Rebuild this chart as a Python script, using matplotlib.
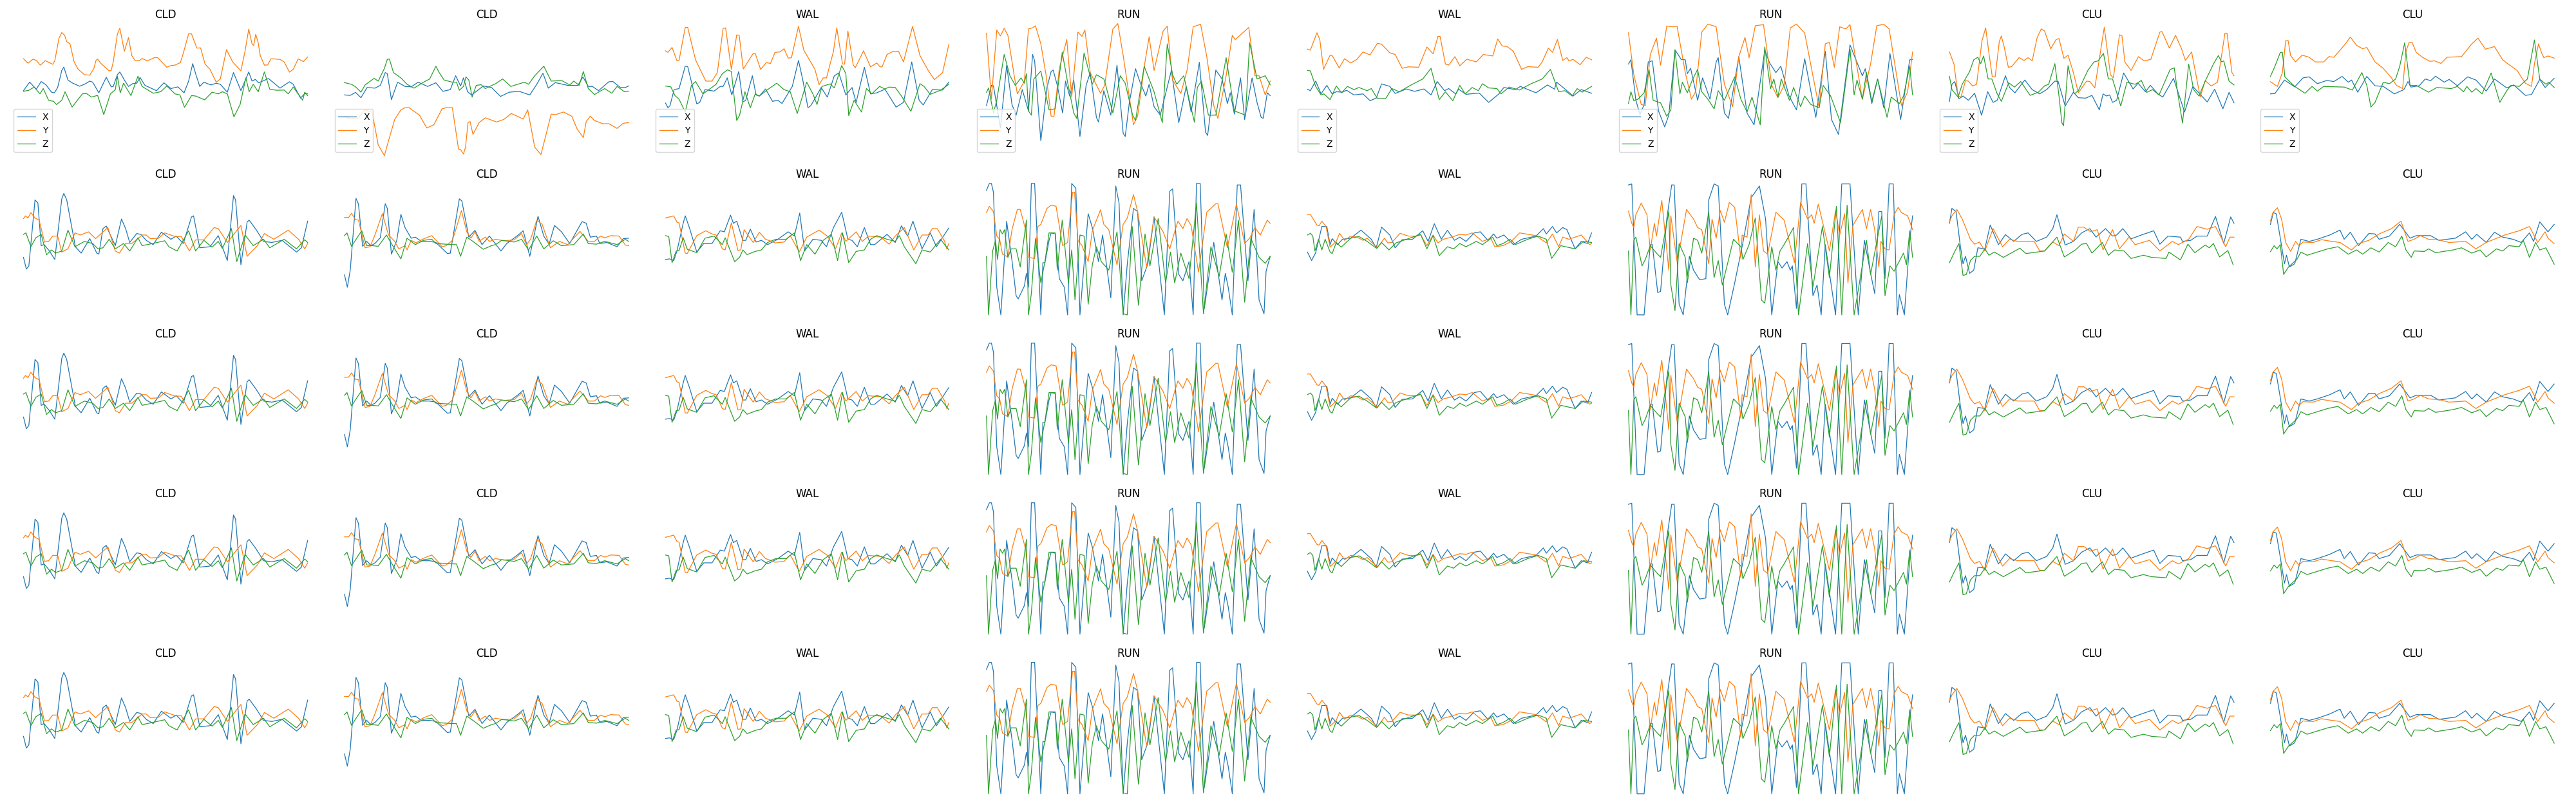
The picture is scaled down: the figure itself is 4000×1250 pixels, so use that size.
import matplotlib
matplotlib.use('Agg')
from matplotlib import pyplot as plt

# each series: (time, value) points, time 0..690, value -315..315
titles = ['CLD', 'CLD', 'WAL', 'RUN', 'WAL', 'RUN', 'CLU', 'CLU']
axes_names = ['X', 'Y', 'Z']

# first row
a1_x = [(0,-5),(15,35),(31,2),(43,38),(55,22),(68,-12),(75,-15),(83,10),(93,90),(98,106),(108,45),(118,32),(136,16),(148,25),(161,40),(168,35),(183,-15),(201,58),(213,13),(218,15),(228,70),(234,83),(245,45),(255,15),(265,28),(275,30),(283,57),(295,20),(323,-5),(341,32),(358,5),(375,13),(390,-15),(401,40),(411,122),(418,75),(428,15),(438,35),(455,22),(468,30),(478,25),(495,-12),(510,80),(528,-5),(547,83),(555,40),(563,48),(571,32),(595,52),(623,7),(646,37),(655,25),(673,-40),(683,-18),(690,-20)]
a1_y = [(0,145),(11,124),(23,143),(31,137),(41,115),(53,136),(71,119),(76,135),(86,240),(93,268),(100,255),(105,225),(113,215),(123,130),(133,95),(148,70),(161,68),(171,100),(176,137),(180,144),(188,123),(208,88),(213,90),(218,130),(228,260),(234,288),(245,180),(255,244),(263,160),(271,136),(281,136),(288,146),(301,135),(318,150),(326,150),(348,105),(358,113),(368,115),(381,127),(388,170),(401,262),(408,262),(421,195),(430,196),(441,120),(453,95),(468,35),(478,50),(493,188),(508,130),(528,88),(538,180),(547,284),(555,215),(559,207),(564,260),(570,220),(575,160),(585,115),(593,116),(601,145),(623,142),(633,130),(646,82),(655,95),(667,144),(680,132),(690,153)]
a1_z = [(0,-8),(13,-3),(26,12),(40,-20),(48,5),(61,-50),(73,-55),(80,-70),(93,-50),(101,-10),(118,-82),(143,-20),(153,-18),(165,-35),(180,-27),(195,-117),(211,-20),(223,0),(228,63),(235,-15),(243,30),(261,-28),(278,63),(288,15),(315,-17),(333,-10),(348,17),(368,-20),(380,-25),(391,-83),(408,-28),(418,-30),(440,-48),(458,-12),(473,-20),(483,-10),(495,-20),(511,-128),(526,-70),(540,55),(548,-10),(558,25),(570,-10),(585,83),(598,2),(615,-3),(633,-2),(643,-20),(655,12),(678,-50),(683,-12),(690,-28)]

a2_x = [(0,-25),(14,-27),(27,-13),(40,-38),(55,10),(74,7),(87,20),(99,80),(104,75),(114,-47),(129,35),(147,15),(162,13),(179,35),(202,15),(222,32),(239,-8),(257,0),(270,65),(282,17),(289,55),(299,-10),(309,-25),(337,17),(357,10),(379,-32),(400,-12),(424,-8),(450,-25),(467,25),(482,77),(495,7),(512,33),(542,20),(567,20),(579,60),(592,15),(602,15),(617,-5),(642,37),(652,38),(670,10),(682,10),(690,17)]
a2_y = [(0,-125),(12,-135),(32,-135),(50,-95),(67,-105),(82,-260),(97,-310),(107,-240),(122,-140),(137,-95),(147,-85),(157,-85),(182,-120),(200,-180),(217,-165),(237,-90),(247,-85),(262,-85),(277,-280),(282,-282),(289,-302),(294,-270),(300,-155),(305,-150),(312,-210),(327,-155),(342,-132),(369,-152),(387,-140),(405,-112),(434,-138),(445,-95),(462,-270),(477,-305),(487,-230),(502,-115),(512,-118),(532,-105),(552,-125),(565,-185),(580,-225),(587,-150),(597,-125),(607,-145),(627,-160),(642,-160),(662,-182),(677,-158),(690,-155)]
a2_z = [(0,33),(17,25),(27,13),(40,-12),(50,22),(72,53),(82,40),(97,100),(104,142),(109,144),(119,80),(137,55),(152,25),(169,7),(192,35),(207,50),(222,110),(230,80),(242,45),(262,35),(272,35),(279,-3),(289,15),(295,60),(302,45),(310,-35),(320,20),(332,23),(342,5),(367,28),(384,50),(404,15),(437,35),(447,25),(462,65),(484,110),(502,40),(527,43),(547,22),(557,40),(570,20),(580,85),(592,5),(607,-23),(632,5),(649,-17),(662,15),(680,-10),(690,-7)]

a3_x = [(0,-63),(6,-85),(11,-75),(21,0),(33,5),(48,110),(54,108),(76,-67),(83,-60),(96,0),(118,-7),(133,15),(140,15),(150,55),(161,-25),(178,85),(188,-58),(195,-50),(211,65),(220,-25),(228,-30),(243,3),(260,-55),(273,-50),(283,-65),(308,15),(323,137),(333,50),(346,-85),(353,-75),(368,-25),(378,10),(393,-35),(410,65),(421,78),(438,-25),(453,10),(463,-60),(483,105),(498,-20),(513,-15),(533,2),(560,-82),(578,-60),(598,130),(616,-50),(626,-72),(648,0),(673,-2),(688,35)]
a3_y = [(0,182),(6,175),(16,198),(28,135),(33,137),(48,292),(54,292),(73,140),(98,40),(113,40),(126,80),(140,287),(146,290),(160,95),(173,257),(179,255),(189,97),(213,170),(218,170),(231,95),(245,127),(255,123),(266,175),(278,177),(288,192),(298,148),(306,150),(323,297),(336,185),(363,95),(373,23),(383,55),(391,55),(408,180),(416,290),(430,120),(435,120),(443,275),(456,115),(461,103),(481,182),(498,107),(513,125),(521,107),(526,107),(538,165),(553,180),(566,180),(578,130),(600,297),(618,160),(638,90),(653,47),(673,80),(688,212)]
a3_z = [(0,17),(13,13),(23,-28),(33,-45),(48,-105),(63,20),(73,38),(91,-20),(123,25),(138,75),(151,93),(160,85),(173,-145),(180,-120),(193,-10),(206,-85),(218,-20),(228,-30),(248,0),(270,30),(288,0),(303,-10),(320,-112),(343,35),(358,-20),(368,-70),(380,15),(400,27),(410,8),(428,113),(438,75),(445,-122),(458,-50),(476,-105),(488,5),(501,-20),(520,15),(533,3),(543,12),(558,10),(573,-30),(596,-102),(618,28),(628,15),(643,-22),(668,-3),(688,25)]

a4_x = [(0,-75),(12,20),(17,18),(34,-180),(49,115),(62,-70),(72,-120),(87,0),(102,-100),(112,165),(117,135),(132,-240),(147,10),(157,85),(162,92),(172,20),(185,-110),(192,40),(202,-30),(212,45),(227,-220),(242,20),(252,80),(267,-130),(272,-152),(285,-5),(302,-120),(317,115),(332,-205),(337,-220),(347,-60),(362,98),(372,40),(387,-30),(395,25),(407,-80),(422,-120),(449,90),(467,-155),(485,15),(497,-105),(517,128),(532,-200),(537,-215),(557,92),(572,50),(585,-65),(592,-15),(602,-115),(617,55),(627,-140),(645,55),(657,-60),(667,-130),(672,-135),(682,-15),(689,-28)]
a4_y = [(0,265),(12,-45),(25,280),(34,252),(43,288),(52,255),(67,70),(75,-20),(92,40),(102,285),(112,290),(119,300),(132,215),(145,65),(157,-125),(164,-125),(177,100),(195,235),(207,-35),(222,270),(232,250),(239,280),(252,80),(277,-17),(287,20),(307,285),(319,310),(332,160),(357,-165),(367,-125),(385,130),(395,248),(407,90),(429,275),(439,298),(452,45),(472,-18),(487,90),(502,295),(520,307),(535,155),(552,-75),(562,-135),(582,65),(597,255),(604,235),(637,292),(652,65),(662,65),(677,-25),(689,40)]
a4_z = [(0,-13),(5,8),(17,-110),(25,-50),(43,165),(57,65),(70,20),(84,55),(92,30),(97,75),(102,-100),(109,-120),(115,50),(132,87),(152,-95),(167,-90),(184,175),(197,35),(212,-110),(219,-135),(237,172),(257,25),(267,70),(285,50),(289,25),(307,-110),(325,65),(337,30),(355,-120),(362,-145),(383,110),(407,-10),(427,-155),(439,215),(452,70),(462,25),(479,65),(505,-153),(512,10),(522,40),(539,-120),(557,-120),(582,150),(602,-100),(629,-120),(639,220),(657,50),(677,65),(689,22)]

a5_x = [(0,2),(7,-5),(20,40),(33,-20),(47,20),(60,-20),(70,-10),(85,-12),(95,-3),(113,-25),(135,-20),(152,-52),(167,-40),(180,27),(200,15),(213,-18),(240,3),(260,-8),(283,3),(300,-25),(315,38),(333,-5),(343,5),(360,-20),(367,2),(385,-22),(417,-16),(440,-60),(465,-20),(477,10),(505,0),(517,15),(555,-15),(583,22),(600,2),(605,35),(627,0),(645,-30),(665,0),(690,-17)]
a5_y = [(0,190),(7,185),(23,267),(30,235),(39,95),(55,162),(60,160),(77,102),(90,145),(105,125),(120,142),(135,177),(152,163),(170,218),(180,213),(200,173),(213,165),(230,100),(245,107),(270,105),(290,200),(305,168),(317,250),(322,250),(335,120),(343,115),(358,155),(370,112),(387,143),(410,130),(427,165),(450,158),(462,238),(473,205),(485,202),(500,180),(520,95),(535,108),(560,105),(570,130),(585,195),(595,175),(607,235),(620,137),(630,150),(635,135),(645,142),(662,117),(677,152),(690,140)]
a5_z = [(0,90),(7,88),(20,15),(33,-25),(40,-20),(55,-47),(70,17),(83,-15),(97,15),(113,0),(125,10),(145,-5),(155,5),(170,-42),(190,-42),(205,5),(223,-10),(250,20),(280,50),(300,100),(320,-47),(335,-10),(353,-52),(370,20),(383,-20),(400,10),(415,-5),(425,28),(440,8),(460,5),(470,-20),(490,12),(515,-2),(540,25),(570,50),(590,95),(610,-10),(625,-5),(643,-30),(655,5),(667,-12),(690,15)]

a6_x = [(0,120),(6,140),(18,-50),(28,-117),(38,-70),(48,130),(58,135),(73,-100),(88,-175),(98,-120),(113,187),(128,142),(138,140),(143,75),(151,100),(168,-50),(180,55),(198,-45),(213,130),(218,150),(233,-110),(243,-135),(268,155),(288,-110),(305,-165),(331,185),(343,125),(358,80),(370,110),(390,-30),(408,-95),(428,145),(455,-130),(478,180),(493,-140),(510,-210),(538,210),(568,65),(575,98),(591,-65),(605,50),(620,-85),(635,170),(661,-140),(683,140),(690,142)]
a6_y = [(0,267),(13,70),(31,-70),(41,-75),(53,165),(68,242),(78,115),(93,298),(108,295),(118,298),(138,80),(153,-45),(163,-10),(178,270),(193,308),(213,295),(233,25),(253,-80),(268,155),(283,245),(293,150),(308,300),(328,305),(348,20),(363,-38),(378,20),(393,290),(408,308),(428,265),(463,-85),(478,215),(488,222),(500,105),(513,295),(528,285),(538,305),(568,-45),(588,120),(603,300),(620,307),(633,285),(663,-75),(678,-10),(690,177)]
a6_z = [(0,-65),(6,-10),(13,-52),(23,-45),(38,-15),(50,95),(60,-50),(78,-62),(93,-125),(103,-95),(113,185),(125,-20),(131,35),(143,-15),(155,45),(168,95),(178,-10),(193,-45),(208,-90),(218,-5),(233,-50),(258,60),(273,-45),(288,-105),(300,-35),(320,-165),(331,200),(345,5),(353,50),(363,-35),(371,50),(391,-50),(401,10),(418,-80),(428,-30),(443,-70),(463,-85),(473,20),(491,-30),(515,-155),(538,190),(548,-25),(555,45),(568,-45),(578,80),(591,-55),(605,50),(628,-130),(638,-35),(658,-65),(668,-30),(683,110),(690,-25)]

a7_x = [(0,-55),(6,25),(13,38),(23,-43),(33,-30),(46,-50),(61,-17),(78,-120),(93,-10),(106,-60),(116,-50),(136,65),(146,10),(159,-15),(183,45),(201,0),(219,-20),(236,0),(256,40),(264,38),(281,-77),(301,-12),(313,-38),(331,-40),(346,-27),(364,-95),(373,-20),(381,-30),(389,-25),(396,-60),(406,-50),(423,78),(446,3),(458,30),(476,-10),(488,20),(506,-20),(518,-35),(544,53),(571,-105),(591,15),(626,-58),(644,2),(664,-90),(679,-13),(691,-62)]
a7_y = [(0,177),(11,120),(21,-30),(28,-35),(39,42),(46,40),(56,17),(66,25),(79,230),(88,290),(96,170),(104,60),(111,60),(121,225),(126,252),(133,200),(143,105),(151,108),(169,150),(181,137),(191,150),(201,135),(213,245),(223,285),(231,275),(246,192),(259,235),(266,240),(278,147),(288,162),(301,80),(313,-15),(333,40),(341,38),(353,8),(376,293),(391,70),(398,55),(413,258),(419,252),(426,130),(441,90),(459,155),(473,135),(489,142),(511,270),(516,273),(534,195),(549,255),(563,195),(573,137),(588,177),(609,-35),(621,42),(636,17),(651,35),(669,265),(674,265),(686,80),(691,65)]
a7_z = [(0,62),(6,0),(21,-35),(31,25),(49,85),(59,140),(69,152),(76,122),(83,158),(94,50),(103,50),(116,-20),(126,-55),(144,32),(158,12),(173,38),(196,-27),(216,-12),(231,18),(241,25),(256,122),(266,-30),(273,-155),(277,-170),(288,113),(303,-20),(313,-5),(336,90),(351,130),(361,135),(374,170),(386,50),(396,50),(416,-77),(431,35),(451,25),(466,43),(479,-13),(493,0),(509,-25),(536,95),(546,102),(553,0),(566,-157),(581,120),(593,0),(606,-30),(621,40),(641,120),(653,160),(661,130),(666,135),(679,40),(691,22)]

a8_x = [(0,-20),(11,-18),(34,45),(59,13),(79,55),(94,60),(114,28),(137,43),(154,38),(174,62),(189,35),(197,45),(212,-12),(234,62),(254,18),(274,15),(301,-20),(324,0),(334,38),(341,12),(361,18),(376,50),(389,42),(401,63),(422,35),(434,48),(454,18),(479,60),(499,45),(524,-7),(544,50),(574,8),(591,22),(619,-27),(634,-23),(654,48),(667,10),(689,53)]
a8_y = [(0,37),(17,15),(29,80),(37,230),(43,230),(49,160),(61,130),(77,162),(94,152),(109,130),(129,130),(142,155),(154,152),(169,185),(184,220),(194,247),(209,208),(224,192),(234,198),(254,130),(274,100),(294,55),(306,20),(321,5),(329,180),(337,222),(344,222),(354,175),(369,152),(387,133),(399,135),(414,123),(429,152),(464,155),(489,215),(504,242),(522,190),(544,202),(564,140),(574,125),(599,90),(619,30),(634,15),(641,120),(651,215),(659,170),(664,150),(674,158),(689,148)]
a8_z = [(0,62),(11,110),(24,175),(29,175),(35,60),(59,15),(84,-17),(101,15),(114,-7),(129,15),(179,12),(199,-2),(222,80),(234,20),(244,-82),(254,-60),(274,35),(289,28),(304,50),(314,110),(326,220),(339,20),(354,20),(384,-12),(404,10),(439,5),(454,15),(469,-10),(477,15),(489,-12),(499,5),(514,-20),(536,78),(557,-60),(574,-5),(584,20),(604,15),(624,50),(641,233),(654,50),(669,25),(676,35),(689,10)]

# second row, the rows below it look almost the same
b1_x = [(0,-38),(7,-93),(13,-78),(28,232),(35,217),(43,17),(50,22),(63,-8),(76,-48),(93,237),(98,262),(105,232),(126,12),(140,-18),(161,50),(178,-18),(183,-23),(193,97),(201,109),(223,17),(238,142),(248,97),(258,32),(275,74),(285,70),(298,42),(315,22),(335,80),(358,47),(371,62),(388,27),(408,152),(413,157),(428,7),(453,12),(473,64),(495,-53),(510,252),(515,232),(528,-73),(543,127),(548,137),(565,92),(583,37),(603,32),(628,42),(663,-13),(675,7),(690,132)]
b1_y = [(0,144),(5,157),(11,147),(18,172),(28,147),(38,137),(51,34),(61,37),(71,62),(83,62),(93,-13),(108,2),(125,77),(138,67),(158,82),(175,50),(205,102),(223,-8),(233,-18),(248,27),(263,27),(288,67),(298,67),(308,50),(328,52),(343,77),(368,60),(383,60),(403,-8),(418,44),(438,44),(463,102),(473,97),(495,32),(528,112),(543,-33),(568,17),(585,74),(608,47),(643,90),(668,47),(683,2),(690,27)]
b1_z = [(0,70),(6,77),(18,12),(30,54),(43,70),(56,-26),(68,-3),(78,-18),(93,-8),(108,90),(125,12),(148,37),(168,27),(181,2),(193,7),(208,47),(223,2),(243,27),(258,-8),(278,54),(288,17),(313,27),(343,40),(353,12),(373,-8),(401,87),(418,-8),(438,42),(458,10),(473,37),(483,4),(505,97),(518,-58),(538,67),(558,17),(583,47),(598,7),(633,47),(663,2),(683,45),(690,32)]

b2_x = [(0,-120),(7,-178),(14,-98),(28,239),(34,212),(44,14),(54,37),(64,17),(74,27),(87,54),(99,214),(104,192),(114,-23),(127,42),(137,164),(147,102),(162,52),(172,57),(187,37),(207,37),(222,32),(250,-20),(257,-18),(279,237),(285,227),(302,57),(317,89),(334,22),(352,62),(380,-8),(394,27),(422,67),(434,87),(450,-33),(470,155),(484,62),(497,24),(510,112),(527,82),(547,27),(577,130),(587,122),(597,57),(612,62),(620,27),(637,32),(662,12),(677,50),(690,52)]
b2_y = [(0,149),(10,149),(17,169),(27,139),(34,137),(50,7),(62,12),(74,67),(92,167),(107,67),(122,37),(132,2),(147,17),(152,-3),(162,42),(174,30),(192,49),(212,64),(237,12),(247,17),(262,42),(272,102),(284,182),(297,82),(307,52),(317,82),(327,37),(342,57),(352,37),(367,47),(387,40),(412,44),(430,74),(442,22),(452,47),(467,137),(480,117),(500,7),(522,37),(542,22),(572,84),(592,37),(607,37),(622,62),(632,54),(647,64),(667,62),(682,20),(690,17)]
b2_z = [(0,64),(6,77),(17,14),(30,52),(42,87),(54,17),(67,17),(82,14),(102,67),(117,17),(137,-45),(152,52),(172,22),(192,42),(212,47),(222,27),(262,22),(272,22),(282,-33),(297,57),(312,37),(337,0),(357,17),(367,22),(382,42),(412,34),(430,47),(447,-3),(467,62),(484,2),(507,40),(527,17),(557,22),(580,72),(592,27),(612,24),(632,37),(652,27),(662,22),(682,47),(690,37)]

b3_x = [(0,-48),(10,-45),(20,-53),(28,-8),(43,122),(48,157),(58,102),(76,-13),(93,27),(113,27),(133,87),(143,82),(158,160),(165,122),(173,132),(188,42),(195,42),(206,95),(220,34),(233,42),(248,22),(273,47),(298,82),(313,62),(326,170),(338,-8),(358,47),(378,42),(391,12),(408,102),(428,174),(443,47),(453,42),(466,12),(483,102),(498,22),(508,22),(538,70),(558,32),(573,110),(588,62),(601,132),(623,2),(643,77),(658,12),(688,100)]
b3_y = [(0,147),(10,152),(20,157),(28,127),(33,124),(48,-18),(53,-20),(63,17),(76,64),(98,87),(113,72),(123,67),(138,2),(145,-3),(160,124),(176,-5),(183,-3),(191,92),(213,32),(228,80),(243,47),(258,37),(266,30),(288,34),(303,64),(325,-13),(343,57),(373,90),(393,62),(413,2),(428,77),(438,37),(463,82),(478,37),(493,62),(523,57),(543,24),(558,62),(580,102),(603,-3),(623,67),(638,67),(648,97),(660,97),(678,37),(683,2),(688,27)]
b3_z = [(0,64),(8,60),(16,-63),(26,-8),(33,-6),(43,54),(53,0),(76,-16),(96,52),(118,62),(138,22),(145,54),(168,-58),(180,-38),(188,-3),(198,-25),(218,-10),(233,-3),(248,32),(268,47),(293,47),(313,77),(328,-53),(343,22),(363,-23),(383,42),(403,70),(418,-53),(430,77),(445,-63),(463,-10),(483,-3),(498,47),(513,64),(538,47),(558,37),(568,64),(580,12),(608,-68),(623,-3),(643,-13),(668,47),(688,-3)]

b4_x = [(0,277),(7,309),(12,309),(17,267),(25,-178),(35,-308),(49,132),(62,-53),(72,-218),(77,-233),(92,-173),(97,-113),(102,-178),(109,309),(117,309),(132,-308),(137,-63),(142,-63),(152,42),(157,77),(167,72),(177,-138),(189,-178),(197,-308),(207,309),(217,287),(227,-308),(247,167),(257,102),(272,-58),(282,67),(302,-228),(314,297),(322,217),(332,-308),(342,-68),(357,192),(367,177),(377,-148),(392,-68),(407,152),(417,-38),(432,-308),(445,272),(452,284),(467,-118),(477,-148),(492,-58),(502,-308),(510,309),(519,309),(529,-278),(552,32),(572,-238),(580,-113),(587,-178),(597,-308),(609,302),(617,302),(635,-148),(650,187),(662,-238),(674,-303),(679,-103),(689,-33)]
b4_y = [(0,172),(7,202),(17,177),(25,62),(32,47),(39,-23),(52,-36),(62,92),(75,187),(82,187),(95,92),(102,-38),(117,-43),(125,107),(132,117),(147,192),(157,207),(169,202),(185,17),(197,32),(209,267),(214,267),(222,42),(232,17),(247,-58),(257,87),(277,185),(285,117),(297,92),(317,-73),(332,117),(342,147),(357,257),(367,177),(389,-83),(407,152),(429,82),(445,2),(457,82),(465,132),(477,97),(487,144),(497,112),(515,-108),(535,174),(557,214),(562,214),(585,7),(607,212),(627,27),(639,52),(652,102),(665,67),(682,137),(689,122)]
b4_z = [(0,-33),(5,-308),(15,-8),(22,42),(27,-48),(33,92),(39,72),(44,92),(52,-38),(60,2),(72,2),(82,-83),(97,137),(102,-308),(109,-208),(119,52),(132,-158),(142,-58),(152,77),(167,77),(172,-98),(184,137),(199,-158),(207,-3),(215,-238),(227,67),(237,62),(247,-258),(257,-73),(267,12),(279,-58),(297,-98),(317,82),(332,-303),(342,-308),(354,107),(369,-263),(385,72),(397,-78),(417,144),(435,-158),(447,-13),(457,-158),(472,-18),(492,-138),(510,217),(527,-303),(545,12),(565,-128),(582,72),(597,-108),(612,137),(627,-248),(642,52),(662,-38),(677,-66),(689,-33)]

b5_x = [(0,-13),(10,-53),(20,-16),(35,107),(47,107),(55,22),(60,50),(73,22),(85,47),(105,52),(130,90),(155,47),(167,7),(180,104),(200,67),(213,7),(230,45),(255,47),(280,87),(293,37),(308,120),(325,47),(340,89),(357,42),(370,57),(385,37),(405,77),(420,82),(438,42),(452,72),(460,52),(477,67),(500,22),(520,47),(555,62),(573,97),(580,72),(595,107),(605,77),(620,102),(630,92),(650,2),(665,37),(680,27),(690,77)]
b5_y = [(0,164),(7,164),(23,114),(28,110),(35,132),(45,107),(55,10),(70,37),(78,75),(90,42),(105,62),(120,57),(135,42),(145,52),(170,7),(187,52),(195,30),(205,32),(225,75),(245,62),(265,62),(275,67),(290,17),(305,67),(317,30),(330,47),(350,57),(370,70),(385,67),(400,77),(425,37),(445,52),(455,12),(475,17),(495,37),(515,77),(555,64),(580,30),(595,72),(610,12),(620,57),(635,47),(665,67),(685,22),(690,27)]
b5_z = [(0,67),(7,75),(13,62),(18,-8),(27,47),(35,-3),(43,47),(55,-13),(60,-20),(70,32),(82,10),(105,52),(125,60),(145,37),(168,4),(180,32),(198,-3),(215,30),(275,70),(290,2),(305,64),(320,-30),(340,12),(355,2),(370,27),(385,12),(410,37),(425,22),(450,57),(460,17),(475,27),(492,47),(505,22),(535,47),(560,62),(580,47),(593,-43),(615,17),(650,2),(670,37),(690,32)]

b6_x = [(0,302),(8,307),(21,-308),(38,-308),(53,22),(58,22),(71,-203),(78,-198),(93,142),(105,302),(111,302),(123,-258),(133,-308),(148,-33),(158,-98),(173,-143),(188,-138),(195,232),(208,307),(218,297),(233,-258),(241,-308),(258,-158),(278,32),(298,242),(318,297),(333,142),(348,-308),(363,-58),(373,-88),(385,-58),(393,-98),(398,-78),(408,-278),(421,307),(431,307),(448,-218),(458,-168),(468,-308),(478,22),(503,-308),(518,307),(538,307),(558,-308),(573,42),(588,-113),(598,-208),(608,177),(615,177),(623,-138),(633,307),(643,307),(653,-308),(658,-213),(670,-308),(683,42),(690,157)]
b6_y = [(0,180),(8,122),(13,102),(18,162),(31,217),(45,162),(53,-3),(63,122),(68,62),(81,229),(98,-98),(103,157),(118,-58),(128,42),(141,187),(158,142),(168,102),(178,92),(195,-68),(203,142),(213,52),(223,182),(233,127),(245,220),(258,197),(273,-43),(276,67),(288,57),(298,257),(308,-83),(318,162),(328,-8),(338,-23),(358,174),(378,137),(403,-63),(418,220),(435,142),(445,162),(451,122),(461,212),(488,-8),(503,182),(513,67),(525,167),(533,-158),(545,112),(568,187),(578,97),(588,187),(598,92),(608,-83),(613,37),(623,2),(633,-3),(645,162),(655,197),(663,172),(678,157),(690,92)]
b6_z = [(0,-8),(6,-308),(13,42),(18,57),(33,-78),(41,-48),(53,17),(68,-18),(78,-38),(98,177),(103,-168),(113,-288),(123,27),(138,-38),(143,-158),(158,52),(168,42),(178,-18),(195,172),(208,-133),(218,-53),(228,-168),(255,47),(273,12),(278,-48),(293,22),(308,147),(323,-238),(331,-253),(348,12),(358,-98),(368,-8),(378,22),(401,102),(413,-308),(435,27),(448,-178),(471,107),(488,-133),(505,202),(518,-308),(531,207),(548,-308),(578,42),(588,-118),(615,157),(623,-218),(635,-78),(645,-103),(668,-18),(675,-73),(683,87),(690,-38)]

b7_x = [(0,122),(6,192),(16,177),(26,22),(33,-68),(39,-33),(49,-113),(59,-98),(69,7),(86,2),(99,114),(119,22),(136,69),(156,37),(176,70),(191,77),(211,37),(236,57),(251,97),(261,162),(281,20),(301,37),(321,77),(341,97),(356,57),(379,97),(396,62),(406,67),(421,97),(441,49),(466,67),(496,87),(511,24),(531,62),(561,57),(566,37),(586,42),(601,62),(626,62),(646,154),(666,27),(683,152),(691,122)]
b7_y = [(0,127),(6,157),(18,187),(31,142),(51,47),(61,24),(73,34),(86,-8),(106,97),(129,12),(146,47),(166,37),(206,37),(219,-8),(231,-8),(251,34),(266,17),(279,72),(301,37),(313,104),(326,104),(343,82),(359,92),(373,-3),(396,92),(413,2),(436,57),(451,22),(486,42),(511,-8),(541,37),(556,22),(581,47),(601,107),(626,94),(646,107),(671,12),(681,57),(691,57)]
b7_z = [(0,-63),(11,-18),(23,27),(33,-123),(41,-118),(51,-53),(61,-33),(74,-33),(86,2),(96,-28),(109,-13),(131,-38),(171,5),(186,-20),(231,-8),(261,57),(279,-36),(306,-3),(321,24),(333,27),(346,-18),(371,32),(386,-28),(401,-3),(424,-8),(441,-43),(471,-28),(491,-38),(526,-43),(533,-13),(561,-50),(579,24),(596,-16),(621,20),(631,7),(641,27),(656,-36),(676,-6),(689,-73)]

b8_x = [(0,117),(7,172),(14,167),(24,52),(34,-68),(39,-28),(46,-83),(59,-68),(74,47),(94,37),(114,47),(144,67),(169,90),(179,47),(194,80),(214,17),(239,74),(254,72),(264,47),(289,62),(314,117),(339,52),(354,64),(389,64),(409,42),(449,52),(474,82),(489,47),(501,70),(524,32),(544,80),(564,57),(589,47),(609,32),(629,77),(639,37),(654,129),(674,82),(689,117)]
b8_y = [(0,132),(6,172),(17,195),(27,142),(37,32),(49,-10),(61,37),(69,17),(79,34),(104,32),(124,45),(149,37),(169,32),(197,-3),(214,27),(239,42),(264,72),(294,97),(317,132),(334,37),(349,47),(364,64),(384,47),(409,44),(434,32),(474,37),(499,2),(524,32),(569,67),(604,87),(629,107),(649,32),(667,82),(674,52),(689,27)]
b8_z = [(0,-11),(9,17),(16,2),(24,22),(32,-118),(44,-83),(64,-48),(74,-13),(89,-28),(114,-13),(139,2),(164,12),(189,-23),(209,-3),(224,-23),(244,7),(264,-13),(286,32),(304,12),(319,62),(329,-3),(342,-38),(349,-8),(374,-10),(384,2),(401,-16),(444,-3),(464,7),(489,-18),(509,-3),(524,-36),(549,2),(564,-8),(579,17),(604,12),(614,42),(629,-38),(644,32),(654,-3),(669,7),(689,-70)]

row_a = [(a1_x, a1_y, a1_z), (a2_x, a2_y, a2_z), (a3_x, a3_y, a3_z), (a4_x, a4_y, a4_z),
         (a5_x, a5_y, a5_z), (a6_x, a6_y, a6_z), (a7_x, a7_y, a7_z), (a8_x, a8_y, a8_z)]
row_b = [(b1_x, b1_y, b1_z), (b2_x, b2_y, b2_z), (b3_x, b3_y, b3_z), (b4_x, b4_y, b4_z),
         (b5_x, b5_y, b5_z), (b6_x, b6_y, b6_z), (b7_x, b7_y, b7_z), (b8_x, b8_y, b8_z)]
rows = [row_a, row_b, row_b, row_b, row_b]

fig, axs = plt.subplots(5, 8, figsize=(40, 12.5), dpi=100)
fig.subplots_adjust(left=0.0036, right=0.9972, top=0.972, bottom=0.012, wspace=0.027, hspace=0.19)

for i in range(5):
    for j in range(8):
        ax = axs[i][j]
        for series, name in zip(rows[i][j], axes_names):
            t = [p[0] for p in series]
            v = [p[1] for p in series]
            ax.plot(t, v, linewidth=0.9, label=name)
        ax.set_xlim(-34.5, 724.5)
        ax.set_ylim(-315, 315)
        ax.set_title(titles[j], fontsize=12, pad=5)
        ax.axis('off')
        if i == 0:
            ax.legend(loc='lower left')

fig.savefig('out.png', dpi=100)
